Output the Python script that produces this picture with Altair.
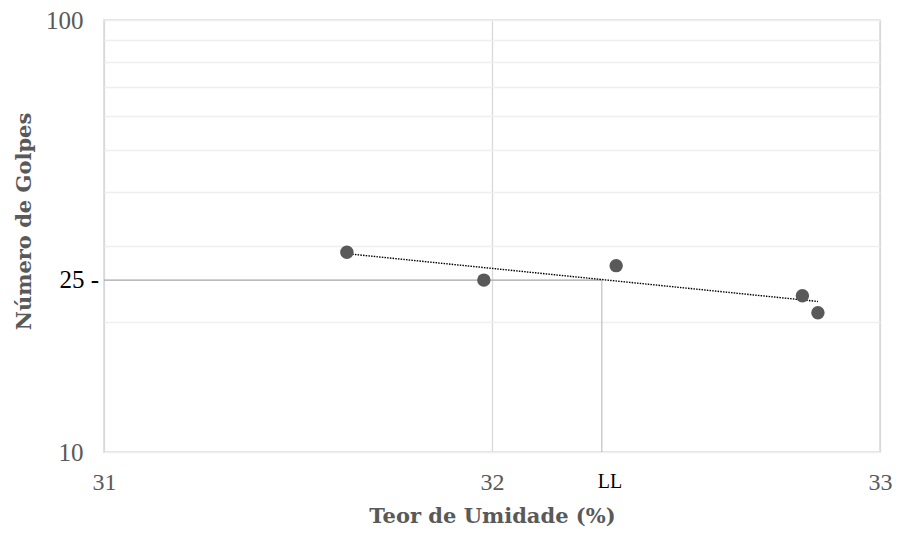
import altair as alt
import pandas as pd

# Data
teor = [31.626, 31.979, 32.32, 32.80, 32.84]   # Teor de Umidade (%)
golpes = [29, 25, 27, 23, 21]                  # Número de Golpes
LL = 32.283                                    # liquid limit (trend crossing 25 blows)
N_REF = 25
x_ticks = [31, 32, 33]
y_grid = [10, 20, 30, 40, 50, 60, 70, 80, 90, 100]
y_labels = [10, 100]

pts = pd.DataFrame({"x": teor, "y": golpes})
ref = pd.DataFrame({"x0": [31], "xll": [LL], "y0": [10], "yref": [N_REF],
                    "lab": ["25 -"], "ll": ["LL"]})

W, H = 776, 432
LABEL_FONT = "Liberation Serif"
TITLE_FONT = "DejaVu Serif"
GREY = "#595959"

xs = alt.Scale(domain=[31, 33], nice=False, zero=False)
ys = alt.Scale(type="log", domain=[10, 100], nice=False)

x_axis = alt.Axis(values=x_ticks, labelExpr="'' + round(datum.value)",
                  title="Teor de Umidade (%)", grid=True, labelFlush=False,
                  gridColor="#d9d9d9", gridWidth=1.3, domain=False, ticks=False,
                  labelFont=LABEL_FONT, labelFontSize=24, labelColor=GREY,
                  labelPadding=18, titleFont=TITLE_FONT, titleFontSize=21,
                  titleFontWeight="bold", titleColor=GREY, titleX=W / 2,
                  titleY=70, titleBaseline="alphabetic")
y_label_test = " || ".join(f"datum.value == {v}" for v in y_labels)
y_axis = alt.Axis(values=y_grid, title="Número de Golpes", grid=True,
                  gridColor="#efefef", gridWidth=1.3, domain=False, ticks=False,
                  labelExpr=f"({y_label_test}) ? datum.label : ''",
                  labelFont=LABEL_FONT, labelFontSize=25, labelColor=GREY,
                  labelPadding=21, titleFont=TITLE_FONT, titleFontSize=21,
                  titleFontWeight="bold", titleColor=GREY, titleX=-80,
                  titleY=201, titleAngle=270, titleBaseline="middle",
                  titleAlign="center")

points = alt.Chart(pts).mark_point(filled=True, opacity=1, size=180,
                                   color=GREY).encode(
    x=alt.X("x:Q", scale=xs, axis=x_axis),
    y=alt.Y("y:Q", scale=ys, axis=y_axis),
)

trend = alt.Chart(pts).transform_regression("x", "y", method="exp").mark_line(
    color="#000000", strokeWidth=1.4, strokeDash=[1.5, 1.2]).encode(
    x=alt.X("x:Q", scale=xs), y=alt.Y("y:Q", scale=ys))

hline = alt.Chart(ref).mark_rule(color="#a6a6a6", strokeWidth=1.2).encode(
    x=alt.X("x0:Q", scale=xs), x2="xll:Q", y=alt.Y("yref:Q", scale=ys))
vline = alt.Chart(ref).mark_rule(color="#bfbfbf", strokeWidth=1.2).encode(
    x=alt.X("xll:Q", scale=xs), y=alt.Y("y0:Q", scale=ys), y2="yref:Q")

lab25 = alt.Chart(ref).mark_text(align="right", baseline="middle", dx=-5,
                                 font=LABEL_FONT, fontSize=25,
                                 color="#000000").encode(
    x=alt.value(0), y=alt.Y("yref:Q", scale=ys), text="lab:N")
labLL = alt.Chart(ref).mark_text(align="left", baseline="alphabetic", dx=-4,
                                 font=LABEL_FONT, fontSize=20,
                                 color="#000000").encode(
    x=alt.X("xll:Q", scale=xs), y=alt.value(H + 36), text="ll:N")

chart = alt.layer(hline, vline, trend, points, lab25, labLL).properties(
    width=W, height=H,
    autosize=alt.AutoSizeParams(type="none"),
    padding={"left": 96, "top": 12, "right": 12, "bottom": 74},
    background="#ffffff",
).configure_view(stroke="#d9d9d9", strokeWidth=1.5)

chart.save("out.html", embed_options={"renderer": "svg", "actions": False})
